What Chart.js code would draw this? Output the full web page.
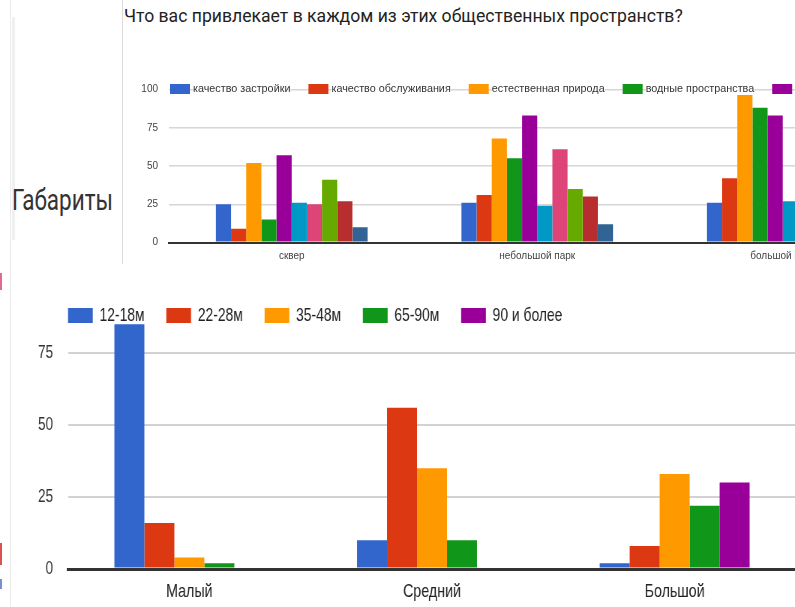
<!DOCTYPE html>
<html lang="ru">
<head>
<meta charset="utf-8">
<title>Габариты</title>
<script src="https://cdn.jsdelivr.net/npm/chart.js@4.4.1/dist/chart.umd.min.js"></script>
<style>
    html, body { margin: 0; padding: 0; background: #fff; }
    body { position: relative; width: 795px; height: 607px; overflow: hidden; }
    #topBox {
        position: absolute; left: 122px; top: 0; width: 673px; height: 264px;
        overflow: hidden; border-left: 1px solid #dcdcdc;
    }
    #question {
        position: absolute; left: 1px; top: 8px; white-space: nowrap;
        font: 17.6px/1 Roboto, "Liberation Sans", sans-serif; color: #222;
    }
    #topChart { position: absolute; left: 0; top: 60px; }
    #sizeLabel {
        position: absolute; left: 12px; top: 185px; white-space: nowrap;
        font: 30px/1 Roboto, "Liberation Sans", sans-serif; color: #333;
        transform: scaleX(0.75); transform-origin: 0 0;
    }
    #bottomBox { position: absolute; left: 0; top: 290px; width: 795px; height: 317px; overflow: hidden; }
    #bottomChart { position: absolute; left: 0; top: -40px; transform: scaleX(0.75); transform-origin: 0 0; }
    .edge { position: absolute; }
</style>
</head>
<body>
<div class="edge" style="left:10px;top:0;width:1px;height:607px;background:#ececec"></div>
<div class="edge" style="left:12px;top:17px;width:3px;height:223px;background:#f0f0f0"></div>
<div class="edge" style="left:0;top:273px;width:2px;height:17px;background:#e06a90"></div>
<div class="edge" style="left:0;top:543px;width:2px;height:22px;background:#d9534f"></div>
<div class="edge" style="left:0;top:579px;width:2px;height:10px;background:#7a8fd0"></div>

<div id="topBox">
    <div id="question">Что вас привлекает в каждом из этих общественных пространств?</div>
    <canvas id="topChart" width="800" height="205"></canvas>
</div>
<div id="sizeLabel">Габариты</div>
<div id="bottomBox">
    <canvas id="bottomChart" width="1064" height="357"></canvas>
</div>

<script>
// --- top chart: what attracts people in each kind of public space ---
const spaceTypes = ['сквер', 'небольшой парк', 'большой парк'];
const buildQuality = [25, 26, 26];
const serviceQuality = [9, 31, 42];
const nature = [52, 68, 98];
const waterSpaces = [15, 55, 88];
// the remaining series are cut off at the right edge of the screenshot
const greenery = [57, 83, 83];
const restPlaces = [26, 24, 27];
const playgrounds = [25, 61, null];
const sportGrounds = [41, 35, null];
const cafes = [27, 30, null];
const events = [10, 12, null];

// --- bottom chart: size of space by age group ---
const sizeCategories = ['Малый', 'Средний', 'Большой'];
const age12to18 = [85, 10, 2];
const age22to28 = [16, 56, 8];
const age35to48 = [4, 35, 33];
const age65to90 = [2, 10, 22];
const age90plus = [0, 0, 30];

const yTicks = [0, 25, 50, 75, 100];

const palette = ['#3366cc', '#dc3912', '#ff9900', '#109618', '#990099',
                 '#0099c6', '#dd4477', '#66aa00', '#b82e2e', '#316395'];
const FONT = '"Liberation Sans", Arial, sans-serif';

// Google-style legend: one line, boxes followed by labels
const flatLegend = {
    id: 'flatLegend',
    afterDraw(chart, args, opts) {
        const ctx = chart.ctx;
        ctx.save();
        ctx.font = opts.font;
        ctx.textBaseline = 'middle';
        const midY = opts.y + opts.boxH / 2;
        let x = opts.x;
        chart.data.datasets.forEach(ds => {
            const w = ctx.measureText(ds.label).width;
            const tx = x + opts.boxW + opts.gap;
            if (opts.textBg) {
                ctx.fillStyle = opts.textBg;
                ctx.fillRect(tx, midY - 6, w, 12);
            }
            ctx.fillStyle = ds.backgroundColor;
            ctx.fillRect(x, opts.y, opts.boxW, opts.boxH);
            ctx.fillStyle = opts.color;
            ctx.fillText(ds.label, tx, midY);
            x = tx + w + opts.spacing;
        });
        ctx.restore();
    }
};

const makeSets = (labels, series) => series.map((data, i) => ({
    label: labels[i],
    data: data,
    backgroundColor: palette[i],
    borderWidth: 0,
    barPercentage: 1,
    categoryPercentage: 0.618
}));

const topLabels = ['качество застройки', 'качество обслуживания', 'естественная природа',
    'водные пространства', 'зелёные насаждения', 'места для отдыха', 'детские площадки',
    'спортивные площадки', 'кафе и рестораны', 'мероприятия'];

new Chart(document.getElementById('topChart'), {
    type: 'bar',
    data: {
        labels: spaceTypes,
        datasets: makeSets(topLabels, [buildQuality, serviceQuality, nature, waterSpaces,
            greenery, restPlaces, playgrounds, sportGrounds, cafes, events])
    },
    plugins: [flatLegend],
    options: {
        responsive: false,
        animation: false,
        devicePixelRatio: 1,
        layout: { padding: { top: 29.5, right: 17.5, bottom: 0, left: 0 } },
        plugins: {
            legend: { display: false },
            tooltip: { enabled: false },
            flatLegend: { x: 47, y: 24, boxW: 20, boxH: 10, gap: 3, spacing: 18,
                          font: '10.8px ' + FONT, color: '#333', textBg: '#fff' }
        },
        scales: {
            x: {
                grid: { display: false, drawTicks: false },
                border: { color: '#333', width: 2 },
                ticks: { color: '#444', font: { size: 10, family: FONT }, padding: 8, maxRotation: 0, autoSkip: false },
                afterFit: s => { s.height = 22.5; }
            },
            y: {
                min: 0,
                max: 100,
                afterBuildTicks: s => { s.ticks = yTicks.map(v => ({ value: v })); },
                grid: {
                    drawTicks: false,
                    color: c => c.tick.value === 0 ? '#333' : '#d6d6d6',
                    lineWidth: c => c.tick.value === 0 ? 2 : 1.5
                },
                border: { display: false },
                ticks: { color: '#444', font: { size: 10, family: FONT }, padding: 11 },
                afterFit: s => { s.width = 46; }
            }
        }
    }
});

// bottom chart is drawn wide and squeezed to 75% with CSS, like the screenshot;
// its 100 line sits above the crop
new Chart(document.getElementById('bottomChart'), {
    type: 'bar',
    data: {
        labels: sizeCategories,
        datasets: makeSets(['12-18м', '22-28м', '35-48м', '65-90м', '90 и более'],
            [age12to18, age22to28, age35to48, age65to90, age90plus])
    },
    plugins: [flatLegend],
    options: {
        responsive: false,
        animation: false,
        devicePixelRatio: 1,
        layout: { padding: { top: 31, right: 2.7, bottom: 0, left: 0 } },
        plugins: {
            legend: { display: false },
            tooltip: { enabled: false },
            flatLegend: { x: 90.7, y: 58, boxW: 33, boxH: 15, gap: 9, spacing: 29,
                          font: '18.5px ' + FONT, color: '#222' }
        },
        scales: {
            x: {
                grid: { display: false, drawTicks: false },
                border: { color: '#333', width: 3 },
                ticks: { color: '#222', font: { size: 19, family: FONT }, padding: 11, maxRotation: 0, autoSkip: false },
                afterFit: s => { s.height = 38; }
            },
            y: {
                min: 0,
                max: 100,
                afterBuildTicks: s => { s.ticks = yTicks.map(v => ({ value: v })); },
                grid: {
                    drawTicks: false,
                    color: c => c.tick.value === 0 ? '#333' : '#d2d2d2',
                    lineWidth: c => c.tick.value === 0 ? 3 : 2
                },
                border: { display: false },
                ticks: { color: '#333', font: { size: 18, family: FONT }, padding: 20 },
                afterFit: s => { s.width = 90.7; }
            }
        }
    }
});
</script>
</body>
</html>
